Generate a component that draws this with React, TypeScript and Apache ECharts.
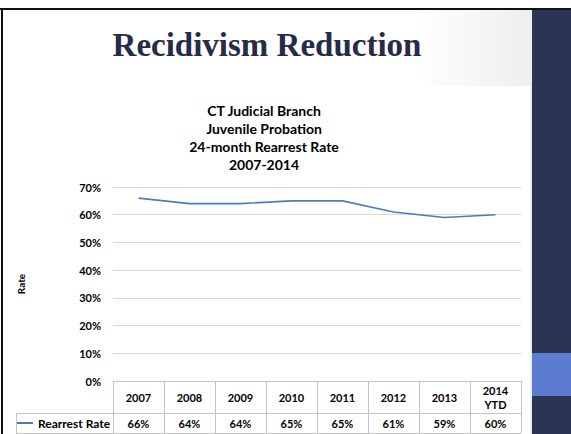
import React, { useEffect, useRef } from "react";
import * as echarts from "echarts";

const slideTitle = "Recidivism Reduction";
const chartTitleLines = ["CT Judicial Branch", "Juvenile Probation", "24-month Rearrest Rate", "2007-2014"];
const categories = ["2007", "2008", "2009", "2010", "2011", "2012", "2013", "2014\nYTD"];
const seriesName = "Rearrest Rate";
const rearrestRate = [66, 64, 64, 65, 65, 61, 59, 60];
const yAxisName = "Rate";
const yMin = 0;
const yMax = 70;
const yInterval = 10;

const FONT = "Lato, 'Open Sans', sans-serif";
const GRID_C = "#D9D9D9";
const TABLE_C = "#C4C4C4";
const LINE_C = "#4A7DBE";

export default function App() {
  const ref = useRef<HTMLDivElement>(null);
  useEffect(() => {
    if (!ref.current) return;
    const chart = echarts.init(ref.current, null, { renderer: "svg" });
    const option: any = {
      animation: false,
      backgroundColor: "#ffffff",
      textStyle: { fontFamily: FONT },
      title: [
        {
          text: slideTitle,
          left: 267,
          top: 28,
          padding: 0,
          textAlign: "center",
          textStyle: {
            fontFamily: "'Liberation Serif', serif",
            fontWeight: "bold",
            fontSize: 33,
            color: "#262B4A",
          },
        },
        {
          text: chartTitleLines.join("\n"),
          left: 264,
          top: 101,
          padding: 0,
          textAlign: "center",
          textStyle: {
            fontFamily: FONT,
            fontWeight: "bold",
            fontSize: 14,
            lineHeight: 18,
            color: "#000",
          },
        },
      ],
      graphic: [
        {
          type: "rect",
          z: -10,
          silent: true,
          shape: { x: 3, y: 10, width: 529, height: 424 },
          style: {
            fill: new echarts.graphic.LinearGradient(0, 0, 1, 0, [
              { offset: 0, color: "#ffffff" },
              { offset: 0.78, color: "#ffffff" },
              { offset: 1, color: "#EEEEEE" },
            ]),
          },
        },
        {
          type: "rect",
          z: -9,
          silent: true,
          shape: { x: 8, y: 86, width: 522, height: 348 },
          style: { fill: "#ffffff" },
        },
        {
          type: "rect",
          silent: true,
          shape: { x: 532, y: 10, width: 39, height: 424 },
          style: { fill: "#2C3454" },
        },
        {
          type: "rect",
          silent: true,
          shape: { x: 532, y: 353, width: 39, height: 43 },
          style: { fill: "#5B7CCF" },
        },
        {
          type: "line",
          silent: true,
          shape: { x1: 0, y1: 9, x2: 571, y2: 9 },
          style: { stroke: "#111", lineWidth: 2 },
        },
        {
          type: "line",
          silent: true,
          shape: { x1: 2, y1: 8, x2: 2, y2: 434 },
          style: { stroke: "#111", lineWidth: 2 },
        },
        {
          type: "line",
          silent: true,
          shape: { x1: 16, y1: 413.5, x2: 521, y2: 413.5 },
          style: { stroke: TABLE_C, lineWidth: 1 },
        },
        {
          type: "line",
          silent: true,
          shape: { x1: 16, y1: 433.5, x2: 521, y2: 433.5 },
          style: { stroke: TABLE_C, lineWidth: 1 },
        },
        {
          type: "line",
          silent: true,
          shape: { x1: 16.5, y1: 413, x2: 16.5, y2: 434 },
          style: { stroke: TABLE_C, lineWidth: 1 },
        },
      ],
      legend: {
        data: [seriesName],
        left: 17,
        top: 417,
        padding: 0,
        icon: "rect",
        itemWidth: 16,
        itemHeight: 2,
        textStyle: { fontFamily: FONT, fontWeight: "bold", fontSize: 12, color: "#000" },
      },
      grid: { left: 113, right: 50, top: 187, bottom: 53, containLabel: false },
      xAxis: [
        {
          type: "category",
          data: categories,
          boundaryGap: true,
          axisLine: { show: true, lineStyle: { color: TABLE_C, width: 1 } },
          axisTick: { show: true, interval: 0, length: 52, lineStyle: { color: TABLE_C, width: 1 } },
          axisLabel: {
            interval: 0,
            margin: 16,
            verticalAlign: "middle",
            fontFamily: FONT,
            fontWeight: "bold",
            fontSize: 11,
            lineHeight: 14,
            color: "#000",
          },
          splitLine: { show: false },
        },
        {
          type: "category",
          data: rearrestRate.map((v) => v + "%"),
          position: "bottom",
          offset: 32,
          boundaryGap: true,
          axisLine: { show: false },
          axisTick: { show: false },
          axisLabel: {
            interval: 0,
            margin: 10,
            verticalAlign: "middle",
            fontFamily: FONT,
            fontWeight: "bold",
            fontSize: 11,
            color: "#000",
          },
        },
      ],
      yAxis: {
        type: "value",
        min: yMin,
        max: yMax,
        interval: yInterval,
        name: yAxisName,
        nameLocation: "middle",
        nameRotate: 90,
        nameGap: 87,
        nameTextStyle: { fontFamily: FONT, fontWeight: "bold", fontSize: 10, color: "#000" },
        axisLine: { show: false },
        axisTick: { show: false },
        axisLabel: {
          margin: 12,
          formatter: "{value}%",
          fontFamily: FONT,
          fontWeight: "bold",
          fontSize: 11,
          color: "#000",
        },
        splitLine: { show: true, lineStyle: { color: GRID_C, width: 1 } },
      },
      series: [
        {
          name: seriesName,
          type: "line",
          xAxisIndex: 0,
          data: rearrestRate,
          symbol: "none",
          lineStyle: { color: LINE_C, width: 1.6 },
          itemStyle: { color: LINE_C },
        },
      ],
    };
    chart.setOption(option);
    return () => chart.dispose();
  }, []);
  return <div ref={ref} style={{ width: 571, height: 434, position: "absolute", left: 0, top: 0 }} />;
}
